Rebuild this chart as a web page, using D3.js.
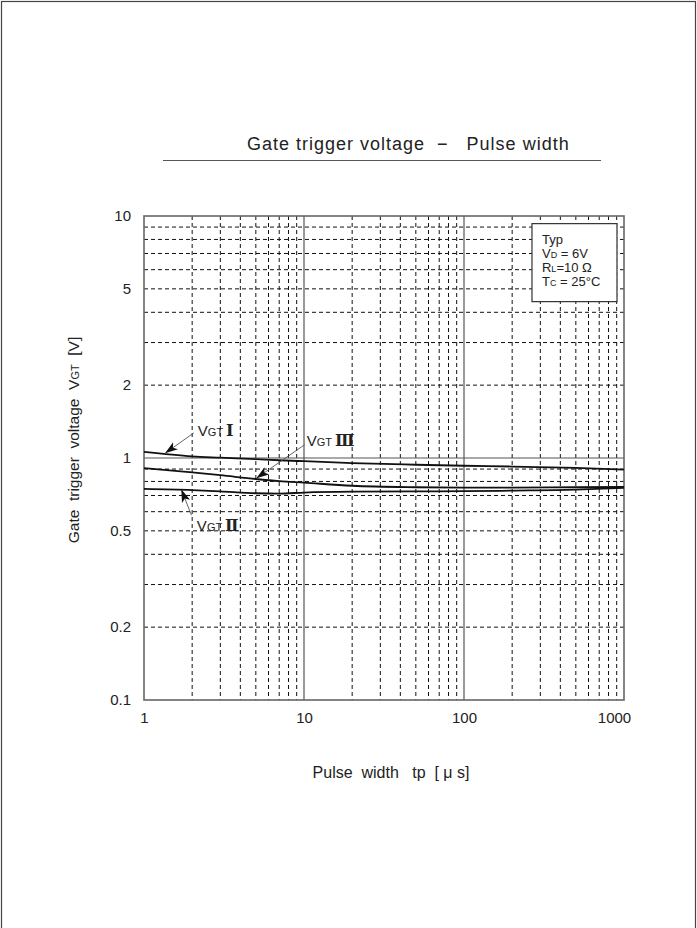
<!DOCTYPE html>
<html><head><meta charset="utf-8">
<script src="https://cdn.jsdelivr.net/npm/d3@7"></script>
<style>
body{margin:0;background:#fff;}
text{font-family:"Liberation Sans",Arial,sans-serif;fill:#222;}
</style></head>
<body><svg id="c" width="697" height="928"></svg>
<script>
// ---- data ----
const pulseWidths = [1, 2, 3, 5, 7, 10, 20, 50, 100, 200, 500, 1000];
const vgt1 = [1.059, 1.015, 1.003, 0.989, 0.979, 0.970, 0.952, 0.938, 0.929, 0.922, 0.910, 0.895];
const vgt3 = [0.909, 0.872, 0.849, 0.819, 0.803, 0.791, 0.768, 0.757, 0.754, 0.754, 0.757, 0.759];
const vgt2 = [0.745, 0.737, 0.728, 0.715, 0.713, 0.720, 0.726, 0.728, 0.729, 0.733, 0.740, 0.752];
const xTicks = [1, 10, 100, 1000];
const yTicks = [0.1, 0.2, 0.5, 1, 2, 5, 10];
const legendLines = ["Typ", "VD = 6V", "RL=10Ω", "Tc = 25°C"];
// annotation anchors in data units: label pos, arrow start, arrow end
const annotations = [
  {num:"Ⅰ", label:[2.17, 1.236], from:[2.05, 1.27], to:[1.37, 1.052]},
  {num:"Ⅲ", label:[10.4, 1.12], from:[10.1, 1.135], to:[5.1, 0.829]},
  {num:"Ⅱ", label:[2.14, 0.50], from:[1.98, 0.58], to:[1.72, 0.735]}
];

const svg = d3.select("#c");
const x = d3.scaleLog().domain([1, 1000]).range([144, 624]);
const y = d3.scaleLog().domain([0.1, 10]).range([700, 216]);

// page frame
svg.append("rect").attr("x",1.5).attr("y",1.5).attr("width",694).attr("height",940)
  .attr("fill","none").attr("stroke","#444").attr("stroke-width",1.2);

// title
svg.append("text").attr("x",247).attr("y",150).attr("text-anchor","start")
  .style("font-size","18px").style("letter-spacing","1px").attr("xml:space","preserve").text("Gate trigger voltage  \u2212   Pulse width");
svg.append("line").attr("x1",163).attr("x2",601).attr("y1",160.5).attr("y2",160.5)
  .attr("stroke","#555").attr("stroke-width",1.2);

// grid
const xMinor = [], yMinor = [];
for (let d of [1,10,100]) for (let k=2;k<=9;k++) xMinor.push(d*k);
for (let d of [0.1,1]) for (let k=2;k<=9;k++) yMinor.push(d*k);
const g = svg.append("g");
g.selectAll(".xm").data(xMinor).enter().append("line")
  .attr("x1",d=>x(d)).attr("x2",d=>x(d)).attr("y1",y(10)).attr("y2",y(0.1))
  .attr("stroke","#111").attr("stroke-width",1).attr("stroke-dasharray","4,3");
g.selectAll(".ym").data(yMinor).enter().append("line")
  .attr("x1",x(1)).attr("x2",x(1000)).attr("y1",d=>y(d)).attr("y2",d=>y(d))
  .attr("stroke","#111").attr("stroke-width",1).attr("stroke-dasharray","4,3");
g.selectAll(".xM").data([10,100]).enter().append("line")
  .attr("x1",d=>x(d)).attr("x2",d=>x(d)).attr("y1",y(10)).attr("y2",y(0.1))
  .attr("stroke","#555").attr("stroke-width",1.2);
g.selectAll(".yM").data([1]).enter().append("line")
  .attr("x1",x(1)).attr("x2",x(1000)).attr("y1",d=>y(d)).attr("y2",d=>y(d))
  .attr("stroke","#555").attr("stroke-width",1.2);
svg.append("rect").attr("x",x(1)).attr("y",y(10)).attr("width",x(1000)-x(1)).attr("height",y(0.1)-y(10))
  .attr("fill","none").attr("stroke","#666").attr("stroke-width",1.6);

// axes labels
const xAxis = d3.axisBottom(x).tickValues(xTicks).tickFormat(d3.format("d")).tickSize(0).tickPadding(12);
const xa = svg.append("g").attr("transform",`translate(0,${y(0.1)})`).call(xAxis);
xa.select(".domain").remove();
xa.selectAll("text").style("font-size","15px").style("font-family","Liberation Sans, Arial, sans-serif").attr("fill","#222")
  .attr("dx",d=>d===1000?-10:0);
const yAxis = d3.axisLeft(y).tickValues(yTicks).tickFormat(d=>String(d)).tickSize(0).tickPadding(13);
const ya = svg.append("g").attr("transform",`translate(${x(1)},0)`).call(yAxis);
ya.select(".domain").remove();
ya.selectAll("text").style("font-size","15px").style("font-family","Liberation Sans, Arial, sans-serif").attr("fill","#222");

// axis titles
const xt = svg.append("text").attr("x",391).attr("y",778).attr("text-anchor","middle").style("font-size","16px").attr("xml:space","preserve");
xt.text("Pulse  width   tp  [ \u03bc s]");
const yt = svg.append("text").attr("transform","translate(79,440) rotate(-90)").attr("text-anchor","middle").style("font-size","15.5px").attr("xml:space","preserve");
yt.append("tspan").text("Gate  trigger  voltage  V");
yt.append("tspan").style("font-size","11px").text("GT");
yt.append("tspan").text("  [V]");

// curves
const line = d3.line().x(d=>x(d[0])).y(d=>y(d[1])).curve(d3.curveMonotoneX);
[vgt1, vgt3, vgt2].forEach(s=>{
  svg.append("path").datum(pulseWidths.map((p,i)=>[p,s[i]]))
    .attr("d",line).attr("fill","none").attr("stroke","#111").attr("stroke-width",1.8);
});

// legend box
const lb = svg.append("g");
const lx = x(266), ly = y(9.3);
lb.append("rect").attr("x",lx).attr("y",ly).attr("width",85).attr("height",78)
  .attr("fill","#fff").attr("stroke","#333").attr("stroke-width",1.2);
const lt = lb.append("text").style("font-size","13px");
legendLines.forEach((t,i)=>{
  const ts = lt.append("tspan").attr("x",lx+10).attr("y",ly+20+i*14);
  if (t.startsWith("VD")) { ts.text("V"); lt.append("tspan").style("font-size","9px").text("D"); lt.append("tspan").text(" = 6V"); }
  else if (t.startsWith("RL")) { ts.text("R"); lt.append("tspan").style("font-size","9px").text("L"); lt.append("tspan").text("=10 Ω"); }
  else if (t.startsWith("Tc")) { ts.text("T"); lt.append("tspan").style("font-size","9px").text("C"); lt.append("tspan").text(" = 25°C"); }
  else ts.text(t);
});

// annotations
const defs = svg.append("defs");
defs.append("marker").attr("id","ah").attr("viewBox","0 0 12 8").attr("refX",11).attr("refY",4)
  .attr("markerWidth",13).attr("markerHeight",9).attr("markerUnits","userSpaceOnUse").attr("orient","auto")
  .append("path").attr("d","M0,0 L12,4 L0,8 L3,4 Z").attr("fill","#111");
annotations.forEach(a=>{
  svg.append("line").attr("x1",x(a.from[0])).attr("y1",y(a.from[1])).attr("x2",x(a.to[0])).attr("y2",y(a.to[1]))
    .attr("stroke","#555").attr("stroke-width",0.9).attr("marker-end","url(#ah)");
  const t = svg.append("text").attr("x",x(a.label[0])).attr("y",y(a.label[1])).style("font-size","15px");
  t.append("tspan").text("V");
  t.append("tspan").style("font-size","11px").text("GT ");
  t.append("tspan").style("font-family","DejaVu Serif, Liberation Serif, serif").style("font-size","16px").style("font-weight","bold").text(a.num);
});
</script></body></html>
